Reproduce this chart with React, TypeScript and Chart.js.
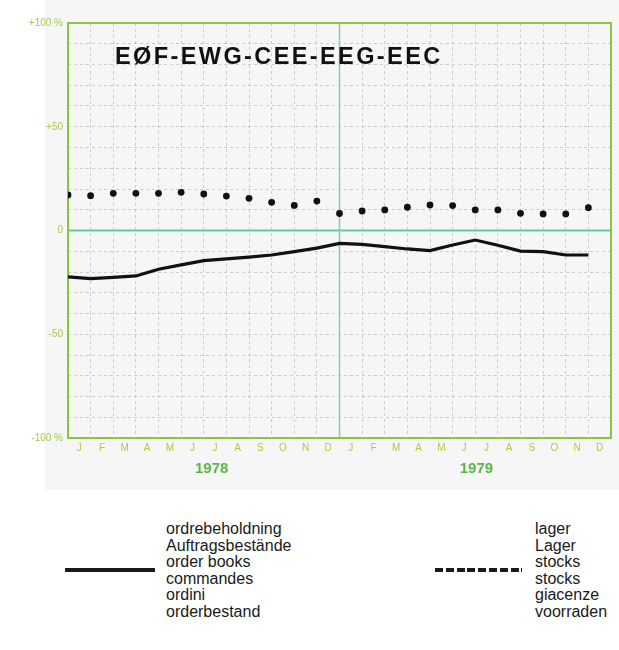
import React, { useEffect, useRef } from "react";
import { Chart, registerables } from "chart.js";

Chart.register(...registerables);

// ---- data ----
const months = ["J", "F", "M", "A", "M", "J", "J", "A", "S", "O", "N", "D"];
const monthLabels = [...months, ...months];
const years = ["1978", "1979"];
const yearPositions = [6.35, 18.05];
const orderBooks = [
  -22.3, -23.2, -22.6, -21.9, -18.7, -16.6, -14.5, -13.7, -12.8, -11.8, -10.2, -8.5,
  -6.2, -6.7, -7.8, -8.9, -9.7, -7.0, -4.6, -7.1, -9.9, -10.2, -11.8, -11.8,
];
const stocks = [
  17.1, 16.8, 17.9, 17.9, 17.9, 18.4, 17.6, 16.6, 15.5, 13.6, 12.1, 14.2,
  8.2, 9.4, 9.9, 11.2, 12.3, 12.0, 9.9, 9.9, 8.3, 8.0, 8.0, 11.0,
];
const yTickLabels: Record<string, string> = {
  "100": "+100 %",
  "50": "+50",
  "0": "0",
  "-50": "-50",
  "-100": "-100 %",
};
const title = "EØF-EWG-CEE-EEG-EEC";
const legendOrders = ["ordrebeholdning", "Auftragsbestände", "order books", "commandes", "ordini", "orderbestand"];
const legendStocks = ["lager", "Lager", "stocks", "stocks", "giacenze", "voorraden"];

const FONT = "'Liberation Sans', Arial, sans-serif";

const framePlugin = {
  id: "frame",
  beforeDatasetsDraw(chart: any) {
    const { ctx, chartArea, scales } = chart;
    const { left, top, right, bottom } = chartArea;
    ctx.save();
    const y0 = scales.y.getPixelForValue(0);
    ctx.strokeStyle = "#5ccaa5";
    ctx.lineWidth = 2;
    ctx.beginPath();
    ctx.moveTo(left, y0);
    ctx.lineTo(right, y0);
    ctx.stroke();
    const x12 = scales.x.getPixelForValue(12);
    ctx.strokeStyle = "#86d0a8";
    ctx.lineWidth = 1.5;
    ctx.beginPath();
    ctx.moveTo(x12, top);
    ctx.lineTo(x12, bottom);
    ctx.stroke();
    ctx.strokeStyle = "#8cc63f";
    ctx.lineWidth = 2;
    ctx.strokeRect(left, top, right - left, bottom - top);
    ctx.restore();
  },
};

function ChartView() {
  const ref = useRef<HTMLCanvasElement | null>(null);
  useEffect(() => {
    if (!ref.current) return;
    const chart = new Chart(ref.current, {
      type: "line",
      data: {
        datasets: [
          {
            label: "order books",
            data: orderBooks.map((v, i) => ({ x: i, y: v })),
            borderColor: "#111",
            backgroundColor: "#111",
            borderWidth: 3.2,
            pointRadius: 0,
            tension: 0,
            xAxisID: "x",
            yAxisID: "y",
          },
          {
            label: "stocks",
            data: stocks.map((v, i) => ({ x: i, y: v })),
            showLine: false,
            borderColor: "#111",
            backgroundColor: "#111",
            pointBackgroundColor: "#111",
            pointBorderWidth: 0,
            pointRadius: 3.4,
            xAxisID: "x",
            yAxisID: "y",
          },
        ],
      },
      options: {
        animation: false,
        responsive: false,
        maintainAspectRatio: false,
        layout: { padding: { top: 23, right: 8, bottom: 10, left: 0 } },
        plugins: { legend: { display: false }, tooltip: { enabled: false } },
        scales: {
          y: {
            min: -100,
            max: 100,
            ticks: {
              stepSize: 10,
              autoSkip: false,
              callback: (v: any) => yTickLabels[String(v)] ?? "",
              color: "#a3cd4a",
              font: { size: 10, family: FONT },
              padding: 5,
            },
            grid: { color: "rgba(150,160,160,0.45)", lineWidth: 1, drawTicks: false },
            border: { display: false, dash: [3, 3] },
            afterFit: (s: any) => {
              s.width = 68;
            },
          },
          x: {
            type: "linear",
            min: 0,
            max: 24,
            ticks: { display: false, stepSize: 1 },
            grid: { color: "rgba(150,160,160,0.45)", lineWidth: 1, drawTicks: false },
            border: { display: false, dash: [3, 3] },
            afterFit: (s: any) => {
              s.height = 0;
            },
          },
          xm: {
            type: "linear",
            position: "bottom",
            min: 0,
            max: 24,
            afterBuildTicks: (s: any) => {
              s.ticks = monthLabels.map((_, i) => ({ value: i + 0.5 }));
            },
            ticks: {
              autoSkip: false,
              maxRotation: 0,
              callback: (_v: any, i: number) => monthLabels[i],
              color: "#b3c846",
              font: { size: 10, family: FONT },
              padding: 4,
            },
            grid: { display: false, drawTicks: false },
            border: { display: false },
            afterFit: (s: any) => {
              s.height = 20;
            },
          },
          xy: {
            type: "linear",
            position: "bottom",
            min: 0,
            max: 24,
            afterBuildTicks: (s: any) => {
              s.ticks = yearPositions.map((p) => ({ value: p }));
            },
            ticks: {
              autoSkip: false,
              maxRotation: 0,
              callback: (_v: any, i: number) => years[i],
              color: "#5cb54a",
              font: { size: 15, family: FONT, weight: "bold" },
              padding: 2,
            },
            grid: { display: false, drawTicks: false },
            border: { display: false },
            afterFit: (s: any) => {
              s.height = 22;
            },
          },
        },
      } as any,
      plugins: [framePlugin],
    });
    return () => chart.destroy();
  }, []);
  return <canvas ref={ref} width={619} height={490} style={{ display: "block", width: 619, height: 490 }} />;
}

export default function App() {
  const textStyle: React.CSSProperties = {
    position: "absolute",
    fontFamily: FONT,
    fontSize: 16,
    lineHeight: "16.5px",
    color: "#1a1a1a",
    whiteSpace: "nowrap",
  };
  return (
    <div style={{ position: "absolute", left: 0, top: 0, width: 619, height: 650, background: "#fff", overflow: "hidden" }}>
      <div style={{ position: "absolute", left: 45, top: 0, width: 574, height: 490, background: "#f6f6f6" }} />
      <div style={{ position: "absolute", left: 0, top: 0 }}>
        <ChartView />
      </div>
      <div
        style={{
          position: "absolute",
          left: 115,
          top: 45,
          fontFamily: FONT,
          fontWeight: "bold",
          fontSize: 23.5,
          lineHeight: "23px",
          letterSpacing: "2.4px",
          color: "#111",
          whiteSpace: "nowrap",
        }}
      >
        {title}
      </div>
      <div style={{ position: "absolute", left: 65, top: 568, width: 90, height: 4, background: "#1a1a1a" }} />
      <div style={{ ...textStyle, left: 166, top: 521 }}>
        {legendOrders.map((t, i) => (
          <div key={i}>{t}</div>
        ))}
      </div>
      <div
        style={{
          position: "absolute",
          left: 435,
          top: 568,
          width: 87,
          height: 4,
          background: "repeating-linear-gradient(to right, #1a1a1a 0px, #1a1a1a 8px, transparent 8px, transparent 10.8px)",
        }}
      />
      <div style={{ ...textStyle, left: 535, top: 521 }}>
        {legendStocks.map((t, i) => (
          <div key={i}>{t}</div>
        ))}
      </div>
    </div>
  );
}
